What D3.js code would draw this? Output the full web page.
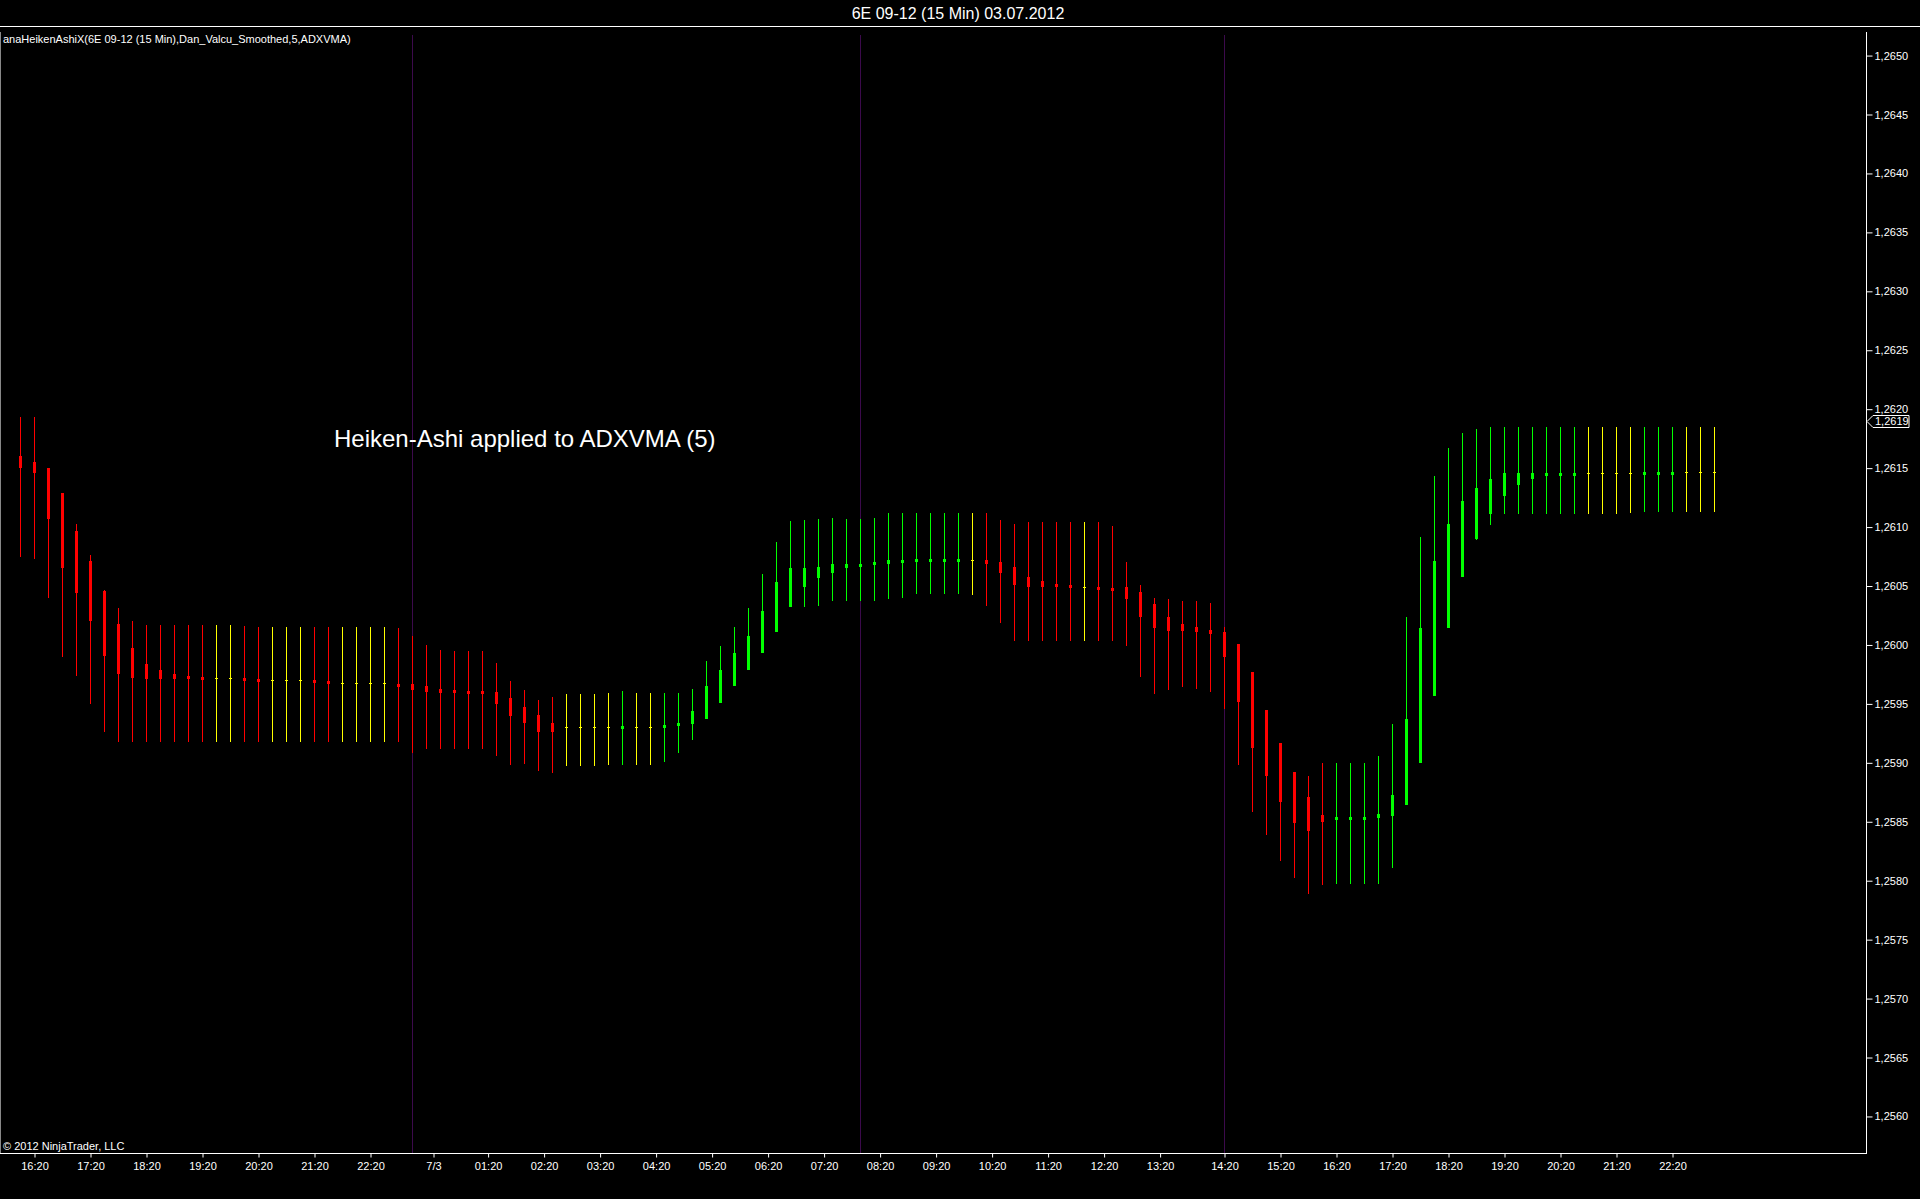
<!DOCTYPE html>
<html><head><meta charset="utf-8">
<script src="https://cdn.jsdelivr.net/npm/d3@7/dist/d3.min.js"></script>
<style>html,body{margin:0;padding:0;background:#000;overflow:hidden}svg{display:block}</style>
</head><body><svg id="c" width="1920" height="1199"></svg>
<script>
const title = "6E 09-12 (15 Min)  03.07.2012";
const indicatorLabel = "anaHeikenAshiX(6E 09-12 (15 Min),Dan_Valcu_Smoothed,5,ADXVMA)";
const annotation = "Heiken-Ashi applied to ADXVMA (5)";
const copyright = "\u00A9 2012 NinjaTrader, LLC";

const opens = [1.26160,1.26155,1.26150,1.26129,1.26097,1.26071,1.26046,1.26018,1.25997,1.25984,
1.25979,1.25975,1.25974,1.25973,1.25972,1.25972,1.25972,1.25971,1.25970,1.25970,
1.25970,1.25970,1.25969,1.25968,1.25968,1.25968,1.25968,1.25967,1.25967,1.25965,
1.25963,1.25962,1.25961,1.25961,1.25960,1.25955,1.25947,1.25941,1.25934,1.25930,
1.25930,1.25930,1.25930,1.25930,1.25930,1.25930,1.25930,1.25931,1.25933,1.25937,
1.25951,1.25965,1.25979,1.25993,1.26011,1.26032,1.26049,1.26057,1.26061,1.26065,
1.26066,1.26068,1.26069,1.26070,1.26071,1.26072,1.26072,1.26072,1.26072,1.26072,
1.26070,1.26066,1.26058,1.26054,1.26052,1.26051,1.26049,1.26049,1.26048,1.26049,
1.26045,1.26035,1.26024,1.26018,1.26015,1.26013,1.26011,1.26001,1.25977,1.25945,
1.25917,1.25892,1.25871,1.25856,1.25853,1.25853,1.25853,1.25853,1.25855,1.25864,
1.25900,1.25957,1.26014,1.26058,1.26090,1.26111,1.26126,1.26136,1.26141,1.26143,
1.26145,1.26145,1.26146,1.26146,1.26146,1.26146,1.26146,1.26146,1.26146,1.26147,
1.26147,1.26147];
const highs = [1.26193,1.26193,1.26150,1.26129,1.26103,1.26076,1.26047,1.26031,1.26020,1.26017,
1.26017,1.26017,1.26017,1.26017,1.26017,1.26017,1.26016,1.26015,1.26015,1.26015,
1.26015,1.26015,1.26015,1.26015,1.26015,1.26015,1.26015,1.26014,1.26008,1.26000,
1.25996,1.25995,1.25995,1.25995,1.25985,1.25969,1.25962,1.25953,1.25956,1.25958,
1.25958,1.25958,1.25959,1.25961,1.25959,1.25959,1.25959,1.25959,1.25963,1.25986,
1.25999,1.26015,1.26031,1.26060,1.26087,1.26105,1.26106,1.26107,1.26108,1.26107,
1.26107,1.26108,1.26112,1.26112,1.26112,1.26112,1.26112,1.26112,1.26112,1.26112,
1.26106,1.26103,1.26104,1.26104,1.26104,1.26104,1.26104,1.26104,1.26101,1.26070,
1.26051,1.26040,1.26039,1.26037,1.26037,1.26036,1.26015,1.26001,1.25977,1.25945,
1.25917,1.25892,1.25889,1.25900,1.25900,1.25900,1.25900,1.25906,1.25933,1.26024,
1.26092,1.26143,1.26167,1.26180,1.26183,1.26185,1.26185,1.26185,1.26185,1.26185,
1.26185,1.26185,1.26185,1.26185,1.26185,1.26185,1.26185,1.26185,1.26185,1.26185,
1.26185,1.26185];
const lows = [1.26075,1.26073,1.26040,1.25990,1.25974,1.25950,1.25926,1.25918,1.25918,1.25918,
1.25918,1.25918,1.25918,1.25918,1.25918,1.25918,1.25918,1.25918,1.25918,1.25918,
1.25918,1.25918,1.25918,1.25918,1.25918,1.25918,1.25918,1.25918,1.25908,1.25912,
1.25912,1.25912,1.25912,1.25912,1.25906,1.25898,1.25899,1.25893,1.25891,1.25897,
1.25897,1.25897,1.25898,1.25898,1.25898,1.25898,1.25901,1.25908,1.25919,1.25937,
1.25951,1.25965,1.25979,1.25993,1.26011,1.26032,1.26032,1.26033,1.26037,1.26037,
1.26037,1.26037,1.26039,1.26040,1.26043,1.26043,1.26043,1.26043,1.26042,1.26033,
1.26019,1.26003,1.26003,1.26003,1.26003,1.26003,1.26003,1.26003,1.26003,1.25999,
1.25973,1.25958,1.25962,1.25964,1.25963,1.25960,1.25946,1.25898,1.25858,1.25839,
1.25817,1.25802,1.25789,1.25796,1.25797,1.25797,1.25797,1.25797,1.25811,1.25864,
1.25900,1.25957,1.26014,1.26058,1.26089,1.26102,1.26111,1.26111,1.26111,1.26111,
1.26111,1.26111,1.26111,1.26111,1.26111,1.26112,1.26113,1.26113,1.26113,1.26113,
1.26113,1.26113];
const closes = [1.26150,1.26146,1.26107,1.26065,1.26044,1.26020,1.25991,1.25975,1.25972,1.25971,
1.25971,1.25971,1.25971,1.25971,1.25972,1.25972,1.25970,1.25969,1.25970,1.25970,
1.25970,1.25968,1.25967,1.25968,1.25968,1.25968,1.25968,1.25964,1.25962,1.25960,
1.25959,1.25959,1.25959,1.25959,1.25950,1.25940,1.25934,1.25926,1.25926,1.25930,
1.25930,1.25930,1.25930,1.25931,1.25930,1.25930,1.25932,1.25934,1.25944,1.25965,
1.25979,1.25993,1.26008,1.26029,1.26053,1.26065,1.26065,1.26066,1.26069,1.26069,
1.26069,1.26070,1.26072,1.26072,1.26073,1.26073,1.26073,1.26073,1.26072,1.26069,
1.26061,1.26051,1.26049,1.26049,1.26049,1.26049,1.26049,1.26047,1.26046,1.26039,
1.26024,1.26014,1.26012,1.26012,1.26011,1.26009,1.25990,1.25952,1.25913,1.25889,
1.25867,1.25849,1.25842,1.25850,1.25854,1.25854,1.25854,1.25857,1.25873,1.25937,
1.26014,1.26071,1.26103,1.26122,1.26133,1.26141,1.26146,1.26146,1.26146,1.26146,
1.26146,1.26146,1.26146,1.26146,1.26146,1.26146,1.26147,1.26147,1.26147,1.26147,
1.26147,1.26147];

const sessionBreaks = [28, 60, 86];
const timeTickLabels = ["16:20","17:20","18:20","19:20","20:20","21:20","22:20","7/3","01:20","02:20",
"03:20","04:20","05:20","06:20","07:20","08:20","09:20","10:20","11:20","12:20","13:20","14:20",
"15:20","16:20","17:20","18:20","19:20","20:20","21:20","22:20"];
const timeTickBars = [1,5,9,13,17,21,25,29.5,33.4,37.4,41.4,45.4,49.4,53.4,57.4,61.4,65.4,69.4,73.4,77.4,81.4,86,
90,94,98,102,106,110,114,118];
const priceTicks = [1.2560,1.2565,1.2570,1.2575,1.2580,1.2585,1.2590,1.2595,1.2600,1.2605,1.2610,1.2615,1.2620,1.2625,1.2630,1.2635,1.2640,1.2645,1.2650];
const lastPrice = 1.2619;

const W = 1920, H = 1199;
const plotLeft = 0, plotRight = 1866, plotTop = 32, plotBottom = 1153;
const FONT = "'Liberation Sans', Arial, sans-serif";

const bars = opens.map((o, i) => ({i, o, h: highs[i], l: lows[i], c: closes[i]}));
const x = d3.scaleLinear().domain([0, bars.length - 1]).range([20.5, 20.5 + 14 * (bars.length - 1)]);
const y = d3.scaleLinear().domain([1.25569, 1.26520]).range([plotBottom, plotTop]);

const colorOf = d => d.c > d.o ? "#00FF00" : (d.c < d.o ? "#FF0000" : "#FFFF00");

const svg = d3.select("#c");
svg.append("rect").attr("width", W).attr("height", H).attr("fill", "#000");

// Title and separator
svg.append("text").attr("x", 958).attr("y", 19).attr("text-anchor", "middle")
  .attr("fill", "#fff").attr("font-family", FONT).attr("font-size", 16).text(title);
svg.append("line").attr("x1", 0).attr("x2", W).attr("y1", 26.5).attr("y2", 26.5).attr("stroke", "#fff");

// Session break lines
svg.append("g").selectAll("line").data(sessionBreaks).join("line")
  .attr("x1", d => x(d)).attr("x2", d => x(d)).attr("y1", 35).attr("y2", plotBottom)
  .attr("stroke", "#3c0a4c").attr("stroke-width", 1);

// Candles
const g = svg.append("g");
g.selectAll("line.wick").data(bars).join("line").attr("class", "wick")
  .attr("x1", d => x(d.i)).attr("x2", d => x(d.i))
  .attr("y1", d => Math.round(y(d.h))).attr("y2", d => Math.round(y(d.l)))
  .attr("stroke", colorOf).attr("stroke-width", 1).attr("shape-rendering", "crispEdges");
g.selectAll("rect.body").data(bars).join("rect").attr("class", "body")
  .attr("x", d => x(d.i) - 1.5).attr("width", 3)
  .attr("y", d => {
    const t = Math.round(y(Math.max(d.o, d.c))), b = Math.round(y(Math.min(d.o, d.c)));
    if (d.o === d.c) return t;
    return b - t < 3 ? Math.round((t + b) / 2) - 1.5 : t;
  })
  .attr("height", d => {
    const t = Math.round(y(Math.max(d.o, d.c))), b = Math.round(y(Math.min(d.o, d.c)));
    if (d.o === d.c) return 1;
    return Math.max(3, b - t);
  })
  .attr("fill", colorOf).attr("shape-rendering", "crispEdges");

// Frame
svg.append("line").attr("x1", 0.5).attr("x2", 0.5).attr("y1", plotTop).attr("y2", plotBottom).attr("stroke", "#888");
svg.append("line").attr("x1", 0).attr("x2", plotRight + 1).attr("y1", plotBottom + 0.5).attr("y2", plotBottom + 0.5).attr("stroke", "#fff");
svg.append("line").attr("x1", plotRight + 0.5).attr("x2", plotRight + 0.5).attr("y1", plotTop).attr("y2", plotBottom + 1).attr("stroke", "#fff");

// Price axis
const yAxis = d3.axisRight(y).tickValues(priceTicks).tickSize(6).tickSizeOuter(0).tickPadding(2)
  .tickFormat(d => d.toFixed(4).replace(".", ","));
const ya = svg.append("g").attr("transform", `translate(${plotRight + 0.5},0)`).call(yAxis);
ya.select(".domain").remove();
ya.selectAll("line").attr("stroke", "#fff");
ya.selectAll("text").attr("fill", "#fff").attr("font-family", FONT).attr("font-size", 11);

// Time axis
const xAxis = d3.axisBottom(x).tickValues(timeTickBars).tickSize(4).tickSizeOuter(0).tickPadding(5)
  .tickFormat((d, i) => timeTickLabels[i]);
const xa = svg.append("g").attr("transform", `translate(0,${plotBottom + 0.5})`).call(xAxis);
xa.select(".domain").remove();
xa.selectAll("line").attr("stroke", "#fff");
xa.selectAll("text").attr("fill", "#fff").attr("font-family", FONT).attr("font-size", 11);

// Last price marker
const ly = Math.round(y(lastPrice)) + 0.5;
svg.append("path")
  .attr("d", `M${plotRight + 1},${ly} L${plotRight + 7},${ly - 6} L${plotRight + 43},${ly - 6} L${plotRight + 43},${ly + 6} L${plotRight + 7},${ly + 6} Z`)
  .attr("fill", "#000").attr("stroke", "#fff").attr("stroke-width", 1);
svg.append("text").attr("x", plotRight + 9).attr("y", ly).attr("dy", "0.35em")
  .attr("fill", "#fff").attr("font-family", FONT).attr("font-size", 11)
  .text(lastPrice.toFixed(4).replace(".", ","));

// Labels
svg.append("text").attr("x", 3).attr("y", 43).attr("fill", "#fff").attr("font-family", FONT)
  .attr("font-size", 11).text(indicatorLabel);
svg.append("text").attr("x", 3).attr("y", 1150).attr("fill", "#fff").attr("font-family", FONT)
  .attr("font-size", 11).text(copyright);
svg.append("text").attr("x", 334).attr("y", 447).attr("fill", "#fff").attr("font-family", FONT)
  .attr("font-size", 24).text(annotation);
</script></body></html>
